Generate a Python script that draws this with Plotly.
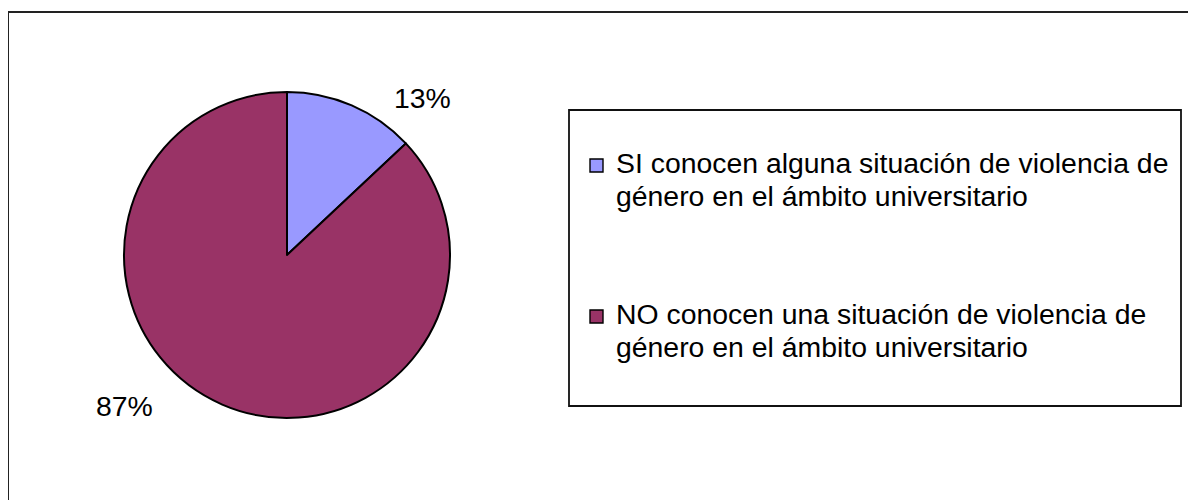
import plotly.graph_objects as go

# ---- data ----
categories = [
    "SI conocen alguna situación de violencia de\ngénero en el ámbito universitario",
    "NO conocen una situación de violencia de\ngénero en el ámbito universitario",
]
values = [13, 87]
colors = ["#9999FF", "#993366"]

# the page body has an 8px margin, so the figure starts at (8, 8) in the window
OFF = 8
W, H = 1196 - OFF, 500 - OFF
FONT = "Liberation Sans, Arial, sans-serif"
FS = 28.4


def px(x):
    return (x - OFF) / W


def py(y):
    return 1 - (y - OFF) / H


fig = go.Figure()
fig.add_trace(go.Pie(
    labels=[c.replace("\n", " ") for c in categories],
    values=values,
    marker=dict(colors=colors, line=dict(color="#000000", width=2)),
    sort=False,
    direction="clockwise",
    rotation=0,
    textinfo="none",
    hoverinfo="label+percent",
    showlegend=False,
    domain=dict(x=[px(124), px(450)], y=[py(418), py(92)]),
))

shapes = []
annotations = []

# outer chart frame
shapes.append(dict(type="rect", xref="paper", yref="paper",
                   x0=px(8), x1=px(1215), y0=py(12), y1=py(520),
                   line=dict(color="#222222", width=2), fillcolor="rgba(0,0,0,0)"))
# legend box
shapes.append(dict(type="rect", xref="paper", yref="paper",
                   x0=px(569), x1=px(1181), y0=py(110), y1=py(406),
                   line=dict(color="#111111", width=1.8), fillcolor="rgba(0,0,0,0)"))

# percent labels
total = sum(values)
label_pos = [(422, 98), (124, 406)]
for v, (lx, ly) in zip(values, label_pos):
    annotations.append(dict(x=px(lx), y=py(ly), xref="paper", yref="paper",
                            text=f"{round(100 * v / total)}%", showarrow=False,
                            xanchor="center", yanchor="middle",
                            font=dict(family=FONT, size=FS, color="#000000")))

# legend entries
entry_top = [163, 314]
line_gap = 33
for cat, col, ytop in zip(categories, colors, entry_top):
    shapes.append(dict(type="rect", xref="paper", yref="paper",
                       x0=px(590), x1=px(603), y0=py(ytop - 4), y1=py(ytop + 9),
                       line=dict(color="#000000", width=1.4), fillcolor=col))
    for i, line in enumerate(cat.split("\n")):
        annotations.append(dict(x=px(614), y=py(ytop + i * line_gap), xref="paper", yref="paper",
                                text=line, showarrow=False,
                                xanchor="left", yanchor="middle",
                                font=dict(family=FONT, size=FS, color="#000000")))

fig.update_layout(
    width=W, height=H,
    margin=dict(l=0, r=0, t=0, b=0),
    paper_bgcolor="#FFFFFF",
    plot_bgcolor="#FFFFFF",
    shapes=shapes,
    annotations=annotations,
    font=dict(family=FONT, color="#000000"),
)

fig.write_html("out.html")
